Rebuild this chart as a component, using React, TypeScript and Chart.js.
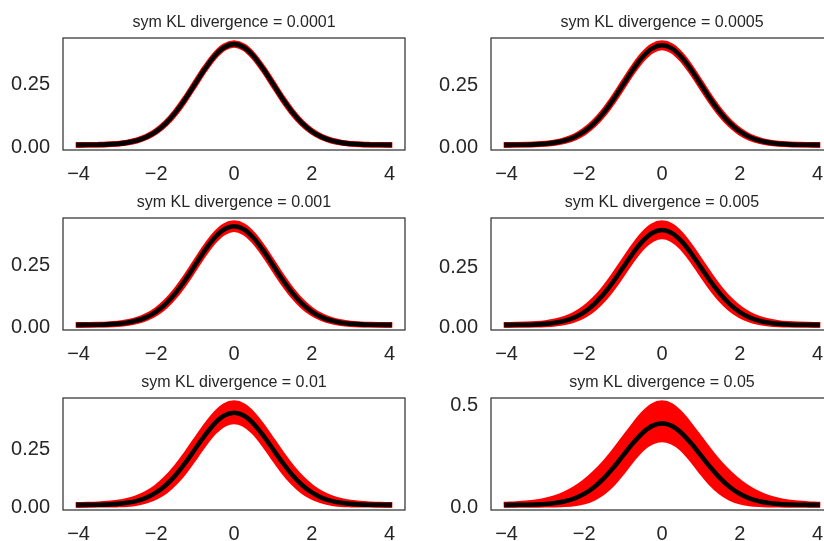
import React, { useEffect, useRef } from "react";
import { Chart, registerables } from "chart.js";

Chart.register(...registerables);

// ---------- data ----------
const xValues = [
  -4, -3.75, -3.5, -3.25, -3, -2.75, -2.5, -2.25, -2, -1.75, -1.5, -1.25, -1, -0.75, -0.5, -0.25,
  0, 0.25, 0.5, 0.75, 1, 1.25, 1.5, 1.75, 2, 2.25, 2.5, 2.75, 3, 3.25, 3.5, 3.75, 4,
];

// reference density (black curve)
const referencePdf = [
  0.0001, 0.0004, 0.0009, 0.002, 0.0044, 0.0091, 0.0175, 0.0317, 0.054, 0.0863, 0.1295, 0.1826, 0.242, 0.3011, 0.3521, 0.3867,
  0.3989, 0.3867, 0.3521, 0.3011, 0.242, 0.1826, 0.1295, 0.0863, 0.054, 0.0317, 0.0175, 0.0091, 0.0044, 0.002, 0.0009, 0.0004, 0.0001,
];

// red band envelopes, one pair per panel
const upper0001 = [0.0002, 0.0005, 0.0011, 0.0023, 0.0049, 0.0099, 0.0186, 0.0333, 0.0561, 0.0889, 0.1326, 0.186, 0.2455, 0.3046, 0.3557, 0.3906, 0.4029, 0.3906, 0.3557, 0.3046, 0.2455, 0.186, 0.1326, 0.0889, 0.0561, 0.0333, 0.0186, 0.0099, 0.0049, 0.0023, 0.0011, 0.0005, 0.0002];
const lower0001 = [0.0, 0.0003, 0.0007, 0.0017, 0.0039, 0.0083, 0.0164, 0.0301, 0.0519, 0.0837, 0.1264, 0.1792, 0.2385, 0.2976, 0.3485, 0.3828, 0.3949, 0.3828, 0.3485, 0.2976, 0.2385, 0.1792, 0.1264, 0.0837, 0.0519, 0.0301, 0.0164, 0.0083, 0.0039, 0.0017, 0.0007, 0.0003, 0.0];

const upper0005 = [0.0002, 0.0006, 0.0013, 0.0027, 0.0055, 0.0108, 0.02, 0.0352, 0.0588, 0.0922, 0.1364, 0.1901, 0.2498, 0.309, 0.3603, 0.3954, 0.4078, 0.3954, 0.3603, 0.309, 0.2498, 0.1901, 0.1364, 0.0922, 0.0588, 0.0352, 0.02, 0.0108, 0.0055, 0.0027, 0.0013, 0.0006, 0.0002];
const lower0005 = [0.0, 0.0002, 0.0005, 0.0013, 0.0033, 0.0074, 0.015, 0.0282, 0.0492, 0.0804, 0.1226, 0.1751, 0.2342, 0.2932, 0.3439, 0.378, 0.39, 0.378, 0.3439, 0.2932, 0.2342, 0.1751, 0.1226, 0.0804, 0.0492, 0.0282, 0.015, 0.0074, 0.0033, 0.0013, 0.0005, 0.0002, 0.0];

const upper001 = [0.0003, 0.0007, 0.0014, 0.0029, 0.0059, 0.0115, 0.021, 0.0367, 0.0607, 0.0946, 0.1392, 0.1932, 0.253, 0.3122, 0.3636, 0.399, 0.4115, 0.399, 0.3636, 0.3122, 0.253, 0.1932, 0.1392, 0.0946, 0.0607, 0.0367, 0.021, 0.0115, 0.0059, 0.0029, 0.0014, 0.0007, 0.0003];
const lower001 = [0.0, 0.0001, 0.0004, 0.0011, 0.0029, 0.0067, 0.014, 0.0267, 0.0473, 0.078, 0.1198, 0.172, 0.231, 0.29, 0.3406, 0.3744, 0.3863, 0.3744, 0.3406, 0.29, 0.231, 0.172, 0.1198, 0.078, 0.0473, 0.0267, 0.014, 0.0067, 0.0029, 0.0011, 0.0004, 0.0001, 0.0];

const upper005 = [0.0006, 0.0013, 0.0024, 0.0046, 0.0085, 0.0153, 0.0265, 0.044, 0.07, 0.1057, 0.1515, 0.2063, 0.2666, 0.3262, 0.3786, 0.4151, 0.428, 0.4151, 0.3786, 0.3262, 0.2666, 0.2063, 0.1515, 0.1057, 0.07, 0.044, 0.0265, 0.0153, 0.0085, 0.0046, 0.0024, 0.0013, 0.0006];
const lower005 = [0.0, 0.0, 0.0001, 0.0004, 0.0017, 0.0047, 0.0107, 0.0216, 0.04, 0.0683, 0.1081, 0.1589, 0.2174, 0.2766, 0.327, 0.3601, 0.3718, 0.3601, 0.327, 0.2766, 0.2174, 0.1589, 0.1081, 0.0683, 0.04, 0.0216, 0.0107, 0.0047, 0.0017, 0.0004, 0.0001, 0.0, 0.0];

const upper01 = [0.0008, 0.0016, 0.0032, 0.0058, 0.0105, 0.0183, 0.0308, 0.0497, 0.0771, 0.114, 0.1608, 0.2163, 0.2769, 0.3369, 0.39, 0.4275, 0.4407, 0.4275, 0.39, 0.3369, 0.2769, 0.2163, 0.1608, 0.114, 0.0771, 0.0497, 0.0308, 0.0183, 0.0105, 0.0058, 0.0032, 0.0016, 0.0008];
const lower01 = [0.0, 0.0001, 0.0002, 0.0004, 0.0012, 0.0033, 0.0084, 0.0181, 0.0347, 0.0612, 0.0994, 0.1489, 0.2071, 0.2667, 0.3172, 0.3497, 0.3611, 0.3497, 0.3172, 0.2667, 0.2071, 0.1489, 0.0994, 0.0612, 0.0347, 0.0181, 0.0084, 0.0033, 0.0012, 0.0004, 0.0002, 0.0001, 0.0];

const upper05 = [0.0023, 0.0042, 0.0076, 0.013, 0.0217, 0.0346, 0.053, 0.078, 0.111, 0.152, 0.201, 0.258, 0.32, 0.383, 0.441, 0.483, 0.498, 0.483, 0.441, 0.383, 0.32, 0.258, 0.201, 0.152, 0.111, 0.078, 0.053, 0.0346, 0.0217, 0.013, 0.0076, 0.0042, 0.0023];
const lower05 = [0.0, 0.0, 0.0, 0.0001, 0.0003, 0.001, 0.0029, 0.0072, 0.016, 0.034, 0.0638, 0.1078, 0.1645, 0.226, 0.278, 0.309, 0.32, 0.309, 0.278, 0.226, 0.1645, 0.1078, 0.0638, 0.034, 0.016, 0.0072, 0.0029, 0.001, 0.0003, 0.0001, 0.0, 0.0, 0.0];

const panelTitles = [
  "sym KL divergence = 0.0001",
  "sym KL divergence = 0.0005",
  "sym KL divergence = 0.001",
  "sym KL divergence = 0.005",
  "sym KL divergence = 0.01",
  "sym KL divergence = 0.05",
];
const upperBands = [upper0001, upper0005, upper001, upper005, upper01, upper05];
const lowerBands = [lower0001, lower0005, lower001, lower005, lower01, lower05];

const xTickValues = [-4, -2, 0, 2, 4];
const yTickValues = [[0, 0.25], [0, 0.25], [0, 0.25], [0, 0.25], [0, 0.25], [0, 0.5]];
const yTickDecimals = [2, 2, 2, 2, 2, 1];

// ---------- layout ----------
const PLOT_LEFT = [63, 491];
const PLOT_TOP = [38, 218, 398];
const PLOT_W = 342;
const PLOT_H = 112;
const AXIS_W = 62;
const TITLE_H = 28;
const X_AXIS_H = 36;
const CANVAS_W = AXIS_W + PLOT_W + AXIS_W;
const CANVAS_H = TITLE_H + PLOT_H + X_AXIS_H;
const TEXT = "#262626";

Chart.defaults.font.family = '"Liberation Sans", Arial, Helvetica, sans-serif';

const framePlugin = {
  id: "frame",
  afterDraw(chart: any) {
    const { ctx, chartArea: a } = chart;
    ctx.save();
    ctx.strokeStyle = "#333333";
    ctx.lineWidth = 1.25;
    ctx.strokeRect(a.left, a.top, a.right - a.left, a.bottom - a.top);
    ctx.restore();
  },
};

const fmtMinus = (v: number, d: number) => {
  const s = Math.abs(v).toFixed(d);
  return v < 0 ? "\u2212" + s : s;
};

function Panel({ index }: { index: number }) {
  const ref = useRef<HTMLCanvasElement>(null);
  useEffect(() => {
    if (!ref.current) return;
    const up = upperBands[index];
    const lo = lowerBands[index];
    const toPts = (arr: number[]) => xValues.map((x, i) => ({ x, y: arr[i] }));
    const yMaxData = Math.max(...up, ...referencePdf);
    const yMinData = Math.min(...lo, ...referencePdf);
    const span = yMaxData - yMinData;
    const lineCommon = {
      pointRadius: 0,
      pointHoverRadius: 0,
      cubicInterpolationMode: "monotone" as const,
      borderCapStyle: "square" as const,
      borderJoinStyle: "round" as const,
    };
    const chart = new Chart(ref.current, {
      type: "line",
      data: {
        datasets: [
          {
            ...lineCommon,
            data: toPts(up),
            borderColor: "#ff0000",
            backgroundColor: "#ff0000",
            borderWidth: 5.5,
            fill: "+1",
            order: 1,
          },
          {
            ...lineCommon,
            data: toPts(lo),
            borderColor: "#ff0000",
            borderWidth: 5.5,
            fill: false,
            order: 1,
          },
          {
            ...lineCommon,
            data: toPts(referencePdf),
            borderColor: "#000000",
            borderWidth: 4.6,
            fill: false,
            order: 0,
          },
        ],
      },
      options: {
        responsive: false,
        animation: false,
        events: [],
        layout: { padding: 0 },
        plugins: {
          legend: { display: false },
          tooltip: { enabled: false },
          title: {
            display: true,
            text: panelTitles[index],
            color: TEXT,
            font: { size: 16, weight: "normal" },
            padding: { top: 2.6, bottom: 6.2 },
          },
        },
        scales: {
          x: {
            type: "linear",
            min: -4.4,
            max: 4.4,
            grid: { display: false, drawTicks: false },
            border: { display: false },
            afterBuildTicks: (s: any) => {
              s.ticks = xTickValues.map((v) => ({ value: v }));
            },
            afterFit: (s: any) => {
              s.height = X_AXIS_H;
            },
            ticks: {
              color: TEXT,
              font: { size: 20 },
              padding: 12,
              maxRotation: 0,
              autoSkip: false,
              callback: (v: any) => fmtMinus(Number(v), 0),
            },
          },
          y: {
            type: "linear",
            position: "left",
            min: yMinData - 0.05 * span,
            max: yMaxData + 0.05 * span,
            grid: { display: false, drawTicks: false },
            border: { display: false },
            afterBuildTicks: (s: any) => {
              s.ticks = yTickValues[index].map((v) => ({ value: v }));
            },
            afterFit: (s: any) => {
              s.width = AXIS_W;
            },
            ticks: {
              color: TEXT,
              font: { size: 20 },
              padding: 13,
              labelOffset: 2.5,
              callback: (v: any) => fmtMinus(Number(v), yTickDecimals[index]),
            },
          },
          yRight: {
            type: "linear",
            position: "right",
            min: 0,
            max: 1,
            grid: { display: false, drawTicks: false },
            border: { display: false },
            ticks: { display: false },
            afterFit: (s: any) => {
              s.width = AXIS_W;
            },
          },
        },
      },
      plugins: [framePlugin],
    } as any);
    return () => chart.destroy();
  }, [index]);

  const col = index % 2;
  const row = Math.floor(index / 2);
  return (
    <canvas
      ref={ref}
      width={CANVAS_W}
      height={CANVAS_H}
      style={{
        position: "absolute",
        left: PLOT_LEFT[col] - AXIS_W,
        top: PLOT_TOP[row] - TITLE_H,
        width: CANVAS_W,
        height: CANVAS_H,
        display: "block",
      }}
    />
  );
}

export default function App() {
  return (
    <div
      style={{
        position: "fixed",
        left: 0,
        top: 0,
        width: 824,
        height: 541,
        overflow: "hidden",
        background: "#ffffff",
      }}
    >
      {panelTitles.map((_, i) => (
        <Panel key={i} index={i} />
      ))}
    </div>
  );
}
